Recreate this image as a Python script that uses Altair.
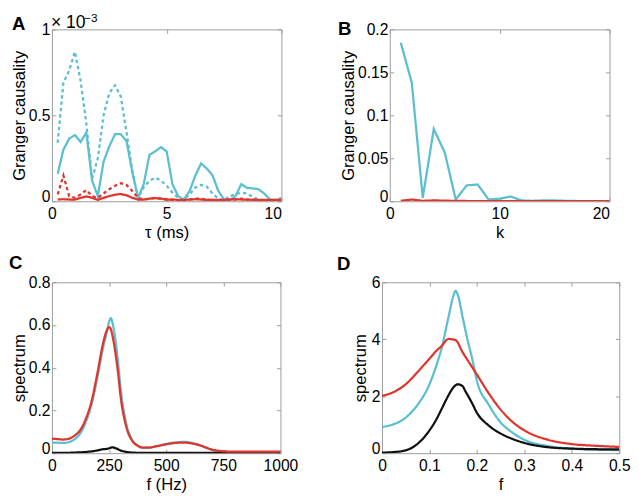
import altair as alt
import pandas as pd

FONT = "Liberation Sans"
CYAN = "#5bbfcf"
RED = "#e0352d"
BLACK = "#111111"
FRAME = "#9b9b9b"

# ---------------- Panel A : Granger causality (x 1e-3) vs tau ----------------
tau_ms = [0.25, 0.5, 0.75, 1.0, 1.25, 1.5, 1.75, 2.0, 2.25, 2.5,
          2.75, 3.0, 3.25, 3.5, 3.75, 4.0, 4.25, 4.5, 4.75, 5.0,
          5.25, 5.5, 5.75, 6.0, 6.25, 6.5, 6.75, 7.0, 7.25, 7.5,
          7.75, 8.0, 8.25, 8.5, 8.75, 9.0, 9.25, 9.5, 9.75, 10.0]
a_cyan_solid = [0.16, 0.30, 0.365, 0.385, 0.345, 0.40, 0.12, 0.03, 0.23, 0.32,
                0.39, 0.39, 0.35, 0.17, 0.02, 0.10, 0.27, 0.29, 0.315, 0.29,
                0.10, 0.03, 0.01, 0.06, 0.15, 0.22, 0.19, 0.15, 0.06, 0.01,
                0.005, 0.03, 0.10, 0.078, 0.075, 0.07, 0.045, 0.01, 0.005, 0.015]
a_cyan_dotted = [0.34, 0.69, 0.76, 0.87, 0.70, 0.45, 0.13, 0.25, 0.50, 0.63,
                 0.675, 0.61, 0.40, 0.18, 0.02, 0.08, 0.12, 0.137, 0.12, 0.09,
                 0.05, 0.02, 0.01, 0.04, 0.08, 0.095, 0.085, 0.045, 0.015, 0.005,
                 0.03, 0.04, 0.05, 0.045, 0.025, 0.01, 0.005, 0.005, 0.01, 0.02]
a_red_solid = [0.01, 0.012, 0.01, 0.01, 0.02, 0.028, 0.02, 0.008, 0.02, 0.03,
               0.038, 0.042, 0.035, 0.02, 0.01, 0.01, 0.015, 0.018, 0.015, 0.01,
               0.01, 0.008, 0.008, 0.01, 0.012, 0.01, 0.008, 0.008, 0.008, 0.008,
               0.01, 0.012, 0.01, 0.01, 0.008, 0.008, 0.008, 0.008, 0.008, 0.008]
a_red_dotted = [0.04, 0.15, 0.03, 0.02, 0.04, 0.065, 0.03, 0.02, 0.045, 0.07,
                0.09, 0.105, 0.095, 0.06, 0.02, 0.01, 0.015, 0.02, 0.015, 0.01,
                0.01, 0.005, 0.005, 0.01, 0.015, 0.015, 0.01, 0.005, 0.005, 0.005,
                0.01, 0.01, 0.015, 0.01, 0.01, 0.005, 0.005, 0.005, 0.005, 0.005]

# ---------------- Panel B : Granger causality vs k ----------------
k_lag = [1, 2, 3, 4, 5, 6, 7, 8, 9, 10, 11, 12, 13, 14, 15, 16, 17, 18, 19, 20]
b_cyan = [0.1845, 0.138, 0.004, 0.084, 0.057, 0.002, 0.0185, 0.0195, 0.002, 0.003,
          0.0055, 0.001, 0.0005, 0.001, 0.001, 0.0005, 0.0003, 0.0002, 0.0002, 0.0002]
b_red = [0.0005, 0.002, 0.0005, 0.001, 0.0007, 0.0004, 0.0003, 0.0003, 0.0003, 0.0003,
         0.0003, 0.0002, 0.0002, 0.0002, 0.0002, 0.0002, 0.0002, 0.0002, 0.0002, 0.0002]

# ---------------- Panel C : spectrum vs f (Hz) ----------------
c_freq_hz = [0, 25, 50, 75, 100, 125, 150, 175, 200, 225,
             240, 250, 258, 265, 275, 290, 300, 325, 350, 375,
             400, 425, 450, 475, 500, 525, 550, 575, 600, 625,
             650, 675, 700, 725, 750, 800, 850, 900, 950, 1000]
c_cyan = [0.05, 0.049, 0.048, 0.052, 0.066, 0.095, 0.15, 0.235, 0.36, 0.50,
          0.565, 0.615, 0.632, 0.61, 0.55, 0.42, 0.31, 0.14, 0.065, 0.036,
          0.026, 0.026, 0.031, 0.037, 0.043, 0.048, 0.051, 0.053, 0.051, 0.045,
          0.037, 0.026, 0.016, 0.01, 0.007, 0.005, 0.005, 0.004, 0.004, 0.004]
c_red = [0.068, 0.066, 0.064, 0.068, 0.083, 0.11, 0.165, 0.25, 0.38, 0.52,
         0.575, 0.59, 0.58, 0.55, 0.49, 0.37, 0.27, 0.125, 0.06, 0.035,
         0.026, 0.026, 0.031, 0.036, 0.042, 0.046, 0.049, 0.05, 0.048, 0.043,
         0.036, 0.026, 0.017, 0.012, 0.009, 0.007, 0.007, 0.007, 0.007, 0.007]
c_black = [0.002, 0.002, 0.002, 0.002, 0.003, 0.004, 0.006, 0.009, 0.013, 0.019,
           0.02, 0.023, 0.026, 0.027, 0.025, 0.018, 0.013, 0.006, 0.003, 0.002,
           0.002, 0.002, 0.0015, 0.0015, 0.0015, 0.0015, 0.0015, 0.0015, 0.0015, 0.0015,
           0.001, 0.001, 0.001, 0.001, 0.001, 0.001, 0.001, 0.001, 0.001, 0.001]

# ---------------- Panel D : spectrum vs f ----------------
d_freq_cyan = [0, 0.025, 0.05, 0.075, 0.1, 0.115, 0.125, 0.14, 0.15, 0.155, 0.16, 0.17,
               0.18, 0.19, 0.2, 0.225, 0.25, 0.275, 0.3, 0.35, 0.4, 0.45, 0.5]
d_cyan = [0.92, 1.02, 1.25, 1.7, 2.42, 3.1, 3.65, 4.77, 5.5, 5.7, 5.55, 4.77,
          4.0, 3.32, 2.54, 1.7, 1.08, 0.72, 0.47, 0.25, 0.16, 0.12, 0.11]
d_freq_red = [0, 0.025, 0.05, 0.075, 0.1, 0.115, 0.125, 0.14, 0.155, 0.17, 0.185,
              0.2, 0.225, 0.25, 0.275, 0.3, 0.35, 0.4, 0.45, 0.5]
d_red = [2.01, 2.15, 2.42, 2.85, 3.32, 3.6, 3.75, 4.01, 3.97, 3.54, 3.15,
         2.76, 2.1, 1.53, 1.1, 0.8, 0.47, 0.32, 0.26, 0.22]
d_freq_black = [0, 0.025, 0.05, 0.075, 0.1, 0.115, 0.125, 0.14, 0.15, 0.16, 0.17,
                0.175, 0.19, 0.2, 0.225, 0.25, 0.275, 0.3, 0.35, 0.4, 0.45, 0.5]
d_black = [0.02, 0.04, 0.1, 0.33, 0.8, 1.2, 1.53, 2.03, 2.3, 2.42, 2.35,
           2.2, 1.75, 1.42, 0.97, 0.69, 0.5, 0.36, 0.21, 0.16, 0.14, 0.13]


def frame(xs, ys, series, color, style):
    return pd.DataFrame({"x": xs, "y": ys, "series": series, "color": color, "style": style})


def panel(df, w, h, xdom, ydom, xt, yt, xtitle, ytitle, ytitle_x, xtitle_y,
          letter, letter_x, letter_y, interp="linear", last_right=None, extras=()):
    xs = alt.Scale(domain=xdom, nice=False, zero=False)
    ys = alt.Scale(domain=ydom, nice=False, zero=False)
    common = dict(labelFont=FONT, labelFontSize=16, labelColor="black",
                  titleFont=FONT, titleFontSize=17, titleColor="black",
                  titleFontWeight="normal", tickColor=FRAME, tickSize=4,
                  offset=-4, domain=False, grid=False, labelFlush=False,
                  labelOverlap=False, labelExpr="'' + datum.value")
    xkw = dict(common)
    if last_right is not None:
        xkw["labelAlign"] = {"condition": {"test": f"datum.value == {last_right}", "value": "right"},
                             "value": "center"}
    xaxis = alt.Axis(orient="bottom", values=xt, title=xtitle, labelPadding=5,
                     titleX=w / 2, titleY=xtitle_y + 4, titleBaseline="alphabetic", **xkw)
    yaxis = alt.Axis(orient="left", values=yt, title=ytitle, labelPadding=2,
                     labelBaseline={"condition": {"test": "datum.value == 0", "value": "alphabetic"},
                                    "value": "middle"},
                     titleX=ytitle_x - 4, titleY=h / 2, titleAngle=270,
                     titleBaseline="middle", **common)
    xaxis2 = alt.Axis(orient="top", values=xt, labels=False, title=None, tickColor=FRAME,
                      tickSize=4, offset=-4, domain=False, grid=False)
    yaxis2 = alt.Axis(orient="right", values=yt, labels=False, title=None, tickColor=FRAME,
                      tickSize=4, offset=-4, domain=False, grid=False)

    lines = alt.Chart(df).mark_line(strokeWidth=2.3, interpolate=interp, clip=True).encode(
        x=alt.X("x:Q", scale=xs, axis=xaxis),
        y=alt.Y("y:Q", scale=ys, axis=yaxis),
        color=alt.Color("color:N", scale=alt.Scale(domain=["cyan", "red", "black"],
                                                   range=[CYAN, RED, BLACK]), legend=None),
        strokeDash=alt.StrokeDash("style:N", scale=alt.Scale(domain=["solid", "dotted"],
                                                             range=[[1, 0], [3.5, 3]]), legend=None),
        detail="series:N",
    )
    ghost = alt.Chart(df).mark_line(opacity=0, strokeWidth=0).encode(
        x=alt.X("x:Q", scale=xs, axis=xaxis2),
        y=alt.Y("y:Q", scale=ys, axis=yaxis2),
        detail="series:N",
    )
    lab = alt.Chart(pd.DataFrame({"t": [letter]})).mark_text(
        align="left", baseline="alphabetic", font=FONT, fontSize=19, fontWeight="bold",
        color="black").encode(text="t:N", x=alt.value(letter_x), y=alt.value(letter_y))
    layers = [lines, ghost, lab] + list(extras)
    return alt.layer(*layers).properties(width=w, height=h)


def txt(s, x, y, size):
    return alt.Chart(pd.DataFrame({"t": [s]})).mark_text(
        align="left", baseline="alphabetic", font=FONT, fontSize=size, color="black"
    ).encode(text="t:N", x=alt.value(x), y=alt.value(y))


df_a = pd.concat([
    frame(tau_ms, a_cyan_dotted, "cyan dotted", "cyan", "dotted"),
    frame(tau_ms, a_cyan_solid, "cyan solid", "cyan", "solid"),
    frame(tau_ms, a_red_dotted, "red dotted", "red", "dotted"),
    frame(tau_ms, a_red_solid, "red solid", "red", "solid"),
])
df_b = pd.concat([
    frame(k_lag, b_cyan, "cyan", "cyan", "solid"),
    frame(k_lag, b_red, "red", "red", "solid"),
])
df_c = pd.concat([
    frame(c_freq_hz, c_cyan, "cyan", "cyan", "solid"),
    frame(c_freq_hz, c_black, "black", "black", "solid"),
    frame(c_freq_hz, c_red, "red", "red", "solid"),
])
df_d = pd.concat([
    frame(d_freq_cyan, d_cyan, "cyan", "cyan", "solid"),
    frame(d_freq_black, d_black, "black", "black", "solid"),
    frame(d_freq_red, d_red, "red", "red", "solid"),
])

pA = panel(df_a, 235, 176, [0, 10], [0, 1], [0, 5, 10], [0, 0.5, 1],
           "τ (ms)", "Granger causality", -33, 37, "A", -41, 1, last_right=10,
           extras=[txt("× 10", -1, -1, 18), txt("−3", 33, -7.5, 12)])
pB = panel(df_b, 225, 176, [0, 20], [0, 0.2], [0, 10, 20], [0, 0.05, 0.1, 0.15, 0.2],
           "k", "Granger causality", -42, 37, "B", -53, 6, last_right=20)
pC = panel(df_c, 234, 175, [0, 1000], [0, 0.8], [0, 250, 500, 750, 1000],
           [0, 0.2, 0.4, 0.6, 0.8], "f (Hz)", "spectrum", -33, 37, "C", -44, -14,
           interp="monotone")
pD = panel(df_d, 243, 175, [0, 0.5], [0, 6], [0, 0.1, 0.2, 0.3, 0.4, 0.5], [0, 2, 4, 6],
           "f", "spectrum", -22, 37, "D", -46, -13, interp="monotone")

row1 = alt.concat(pA, pB, columns=2, align="none", spacing=56)
row2 = alt.concat(pC, pD, columns=2, align="none", spacing=38)

chart = alt.vconcat(row1, row2, spacing=12).properties(
    padding={"left": 0, "top": -2, "right": 0, "bottom": 0}
).configure_view(stroke=FRAME, strokeWidth=1)

chart.save("out.html", embed_options={"renderer": "svg", "actions": False})
